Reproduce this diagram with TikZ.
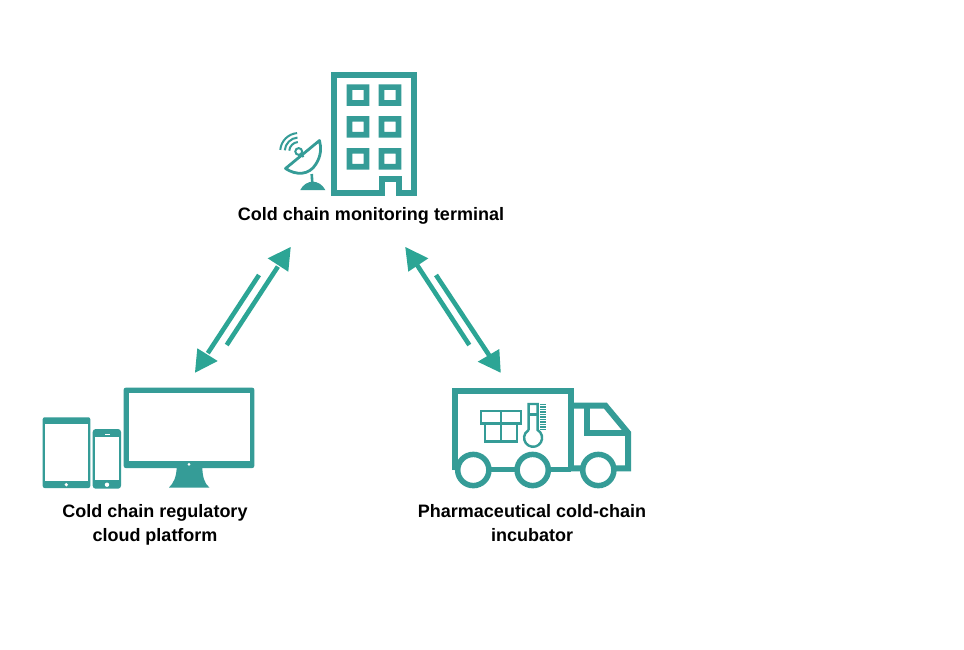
\documentclass[tikz,border=0pt]{standalone}
\usepackage{fontspec}
\usetikzlibrary{calc}
\setmainfont{Liberation Sans}
\definecolor{icon}{HTML}{359C97}
\definecolor{arrowc}{HTML}{2CA595}
\tikzset{
  lbl/.style={font=\fontsize{18}{24.3}\selectfont\bfseries, align=center, text=black, inner sep=0pt, anchor=north},
  thick line/.style={draw=icon, line width=6pt, fill=none, line join=miter},
  thin line/.style={draw=icon, line width=2.4pt, fill=none},
  wave/.style={draw=icon, line width=2pt, fill=none},
  shaft/.style={draw=arrowc, line width=4.6pt},
  head/.style={fill=arrowc, draw=none},
  solid icon/.style={fill=icon, draw=none},
  hole/.style={fill=white, draw=none},
}
\begin{document}
\begin{tikzpicture}[x=1pt,y=-1pt]
\path[use as bounding box, fill=white] (0,0) rectangle (964,649);

% building
\draw[thick line] (379,193) -- (334.3,193) -- (334.3,75.3) -- (413.7,75.3) -- (413.7,193) -- (398.7,193) -- (398.7,178.8) -- (382,178.8) -- (382,196);
\foreach \wx in {346.7,378.7}{
  \foreach \wy in {84.3,116,148}{
    \path[solid icon,even odd rule] (\wx,\wy) rectangle ++(22.6,21.5) (\wx+5.7,\wy+5.6) rectangle ++(11.2,10.3);
  }
}
% dish
\draw[icon, line width=2.8pt, line join=round] (319.5,140.5) -- (285.5,168.5) .. controls (296,175.5) and (309,175.5) .. (316,164) .. controls (321,156) and (321.5,148) .. (319.5,140.5) -- cycle;
\draw[icon, line width=2pt] (298.7,151.5) circle (3.4);
\draw[icon, line width=2pt] (301,154) -- (303.5,157);
\draw[icon, line width=2.6pt] (311.7,174) -- (312.3,183);
\path[solid icon] (300.3,190) .. controls (303,184.5) and (308,181.7) .. (312.8,181.7) .. controls (317.5,181.7) and (322.5,184.5) .. (325.3,190) -- cycle;
\draw[wave] (298.7,151.5) ++(-95:9.5) arc[start angle=-95, end angle=-175, radius=9.5];
\draw[wave] (298.7,151.5) ++(-95:14) arc[start angle=-95, end angle=-175, radius=14];
\draw[wave] (298.7,151.5) ++(-95:18.5) arc[start angle=-95, end angle=-175, radius=18.5];

% tablet
\path[solid icon, rounded corners=2pt] (42.7,417.3) rectangle (90.3,488);
\path[hole] (45,424.3) rectangle (88.3,481);
\path[hole] (66.3,484.7) circle (1.8);
% phone
\path[solid icon, rounded corners=3pt] (92.7,429) rectangle (121,488.7);
\path[hole] (94.7,437.3) rectangle (119,480);
\path[hole] (107,484.7) circle (2.2);
\path[hole] (104.5,433.5) rectangle (109.5,434.2);
% monitor
\path[solid icon, rounded corners=2pt] (123.7,387.7) rectangle (254.3,468);
\path[hole] (129,393) rectangle (249.7,461);
\path[hole] (189,464.3) circle (1.5);
\path[solid icon] (176.7,467) -- (202.3,467) .. controls (202.5,476) and (204,483) .. (209.3,487.5) -- (169,487.5) .. controls (174,483) and (176.5,476) .. (176.7,467) -- cycle;

% truck body
\draw[thick line] (455.3,470) -- (455.3,391.3) -- (571,391.3) -- (571,470);
\draw[thick line] (571,405.5) -- (605.3,405.5) -- (628,432.8) -- (628,468.3) -- (571,468.3);
\draw[thick line] (586.5,405.5) -- (586.5,433.3) -- (628,433.3);
\draw[icon, line width=5pt] (455,469) -- (571,469);
\foreach \cx in {473.3,532.7,598.3}{
  \draw[icon, line width=5.5pt, fill=white] (\cx,470) circle (15.6);
}
% parcel
\draw[thin line] (481,411.2) rectangle (521.2,423.6);
\draw[thin line] (485,423.6) rectangle (517,441.5);
\draw[thin line] (501,411.2) -- (501,441.5);
% thermometer
\draw[thin line] (528.6,430) -- (528.6,404) -- (537.6,404) -- (537.6,430) arc[start angle=-60, end angle=240, radius=9];
\draw[thin line] (528.6,414.5) -- (537.6,414.5);
\foreach \ty in {404.5,407,...,431}{
  \draw[icon, line width=1.3pt] (540,\ty) -- (546,\ty);
}

% labels
\node[lbl] (terminal) at (371,207) {Cold chain monitoring terminal};
\node[lbl] (cloud) at (155,504) {Cold chain regulatory\\cloud platform};
\node[lbl] (incubator) at (532,504) {Pharmaceutical cold-chain\\incubator};

% connectors
\coordinate (la) at (195,372.7);
\coordinate (lb) at (259,275);
\coordinate (lc) at (226.7,345);
\coordinate (ld) at (290.7,247);
\coordinate (ra) at (405.3,247);
\coordinate (rb) at (469.3,345);
\coordinate (rc) at (436,275);
\coordinate (rd) at (500.7,372.7);
\draw[shaft] ($(la)!0.2!(lb)$) -- (lb);
\draw[shaft] (lc) -- ($(lc)!0.8!(ld)$);
\draw[shaft] ($(ra)!0.15!(rb)$) -- (rb);
\draw[shaft] (rc) -- ($(rc)!0.85!(rd)$);
\path[head] (la) -- (197.3,348.3) -- (217.7,361) -- cycle;
\path[head] (ld) -- (267.7,258.3) -- (288.3,271.7) -- cycle;
\path[head] (ra) -- (428.3,258.3) -- (408.3,271.7) -- cycle;
\path[head] (rd) -- (499.3,349) -- (477.7,361.7) -- cycle;
\end{tikzpicture}
\end{document}
